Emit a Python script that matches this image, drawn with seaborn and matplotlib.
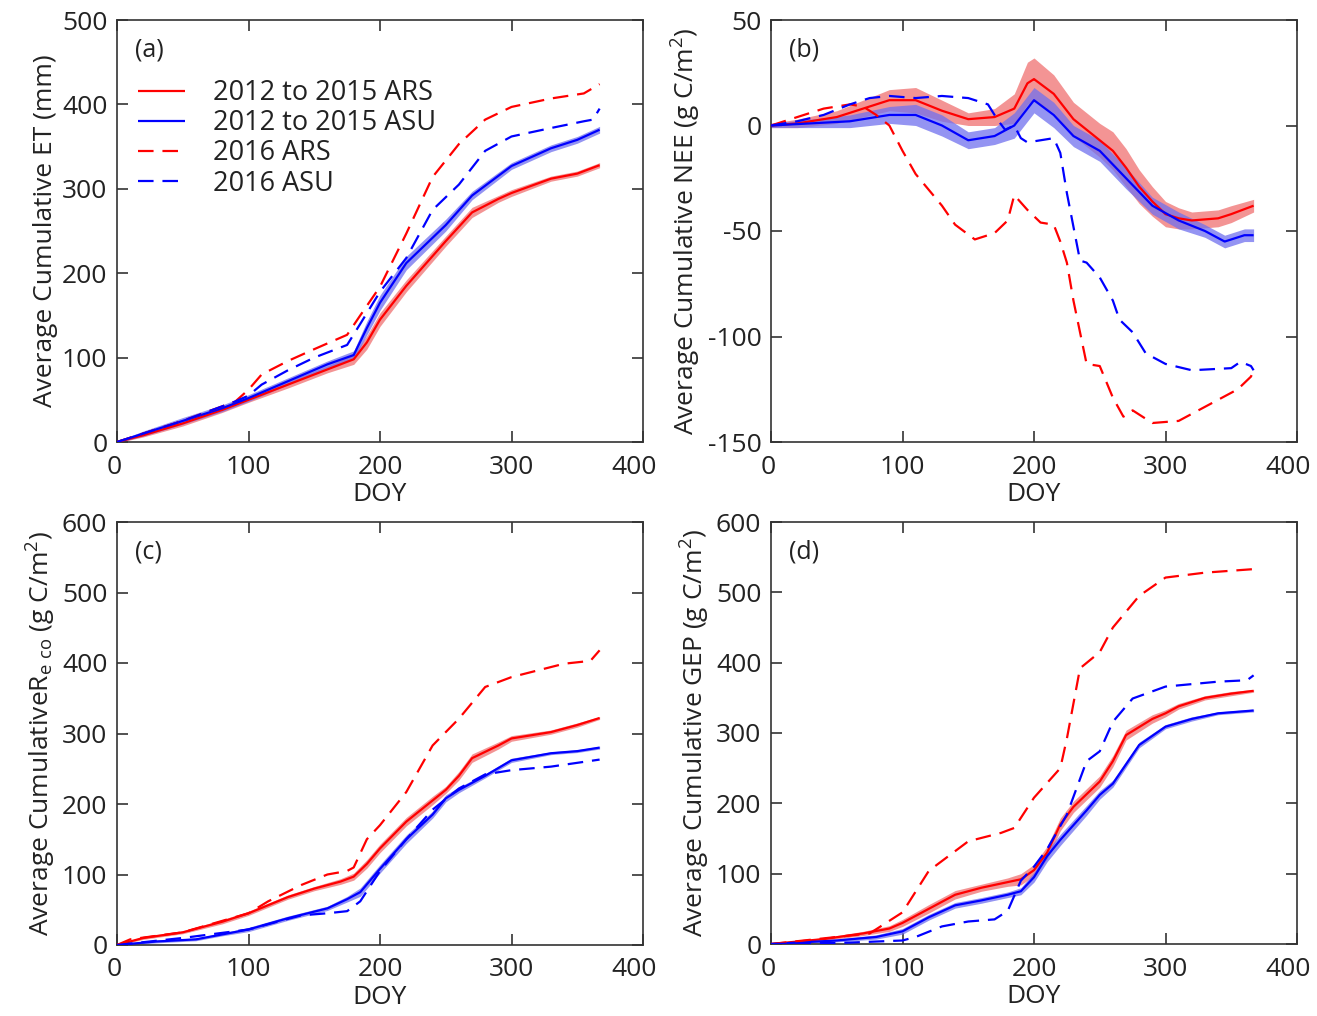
import numpy as np
import pandas as pd
import matplotlib
matplotlib.use("Agg")
import matplotlib.pyplot as plt
from matplotlib.transforms import ScaledTranslation
import seaborn as sns

# ---------------- data ----------------
# (a) cumulative ET
ET_ARS_x = [0, 20, 50, 80, 100, 130, 160, 180, 190, 200, 220, 250, 270, 290, 300, 330, 350, 367]
ET_ARS_y = [0, 8, 22, 38, 50, 68, 86, 98, 118, 145, 185, 238, 272, 288, 295, 312, 318, 328]
ET_ARS_e = [1, 2, 3, 3, 3, 4, 4, 6, 8, 8, 7, 6, 6, 4, 4, 3, 3, 3]
ET_ASU_x = [0, 20, 50, 80, 100, 130, 160, 180, 190, 200, 220, 250, 270, 300, 330, 350, 367]
ET_ASU_y = [0, 10, 25, 40, 52, 72, 92, 103, 135, 165, 212, 257, 292, 327, 348, 358, 370]
ET_ASU_e = [1, 3, 4, 4, 4, 4, 4, 5, 8, 9, 8, 7, 5, 4, 4, 4, 4]
ET16_ARS_x = [0, 50, 90, 100, 110, 130, 150, 175, 185, 200, 220, 240, 260, 280, 300, 330, 355, 367]
ET16_ARS_y = [0, 25, 48, 62, 80, 96, 110, 127, 150, 184, 247, 314, 353, 382, 397, 407, 413, 424]
ET16_ASU_x = [0, 50, 90, 100, 110, 130, 150, 175, 185, 200, 220, 240, 260, 280, 300, 330, 355, 362, 367]
ET16_ASU_y = [0, 25, 48, 55, 68, 85, 100, 115, 140, 178, 218, 275, 305, 345, 362, 372, 380, 382, 395]

# (b) cumulative NEE
NEE_ARS_x = [0, 20, 50, 70, 90, 110, 130, 150, 170, 185, 195, 200, 215, 230, 250, 260, 270, 280, 290, 300, 310, 320, 340, 350, 367]
NEE_ARS_y = [0, 1, 4, 8, 12, 12, 7, 3, 4, 8, 20, 22, 15, 3, -7, -12, -20, -29, -36, -42, -44, -45, -44, -42, -38]
NEE_ARS_e = [1, 2, 3, 4, 5, 6, 5, 3, 4, 7, 10, 10, 9, 8, 8, 9, 9, 8, 7, 6, 5, 4, 4, 4, 3]
NEE_ASU_x = [0, 30, 60, 90, 110, 130, 150, 170, 185, 200, 215, 230, 250, 270, 290, 310, 330, 345, 360, 367]
NEE_ASU_y = [0, 1, 2, 5, 5, 0, -7, -5, 0, 12, 5, -5, -12, -25, -38, -45, -50, -55, -52, -52]
NEE_ASU_e = [1, 2, 3, 4, 5, 5, 4, 4, 6, 6, 6, 5, 5, 5, 4, 4, 3, 3, 3, 3]
NEE16_ARS_x = [0, 20, 40, 60, 70, 80, 90, 100, 110, 130, 140, 155, 170, 180, 185, 195, 205, 215, 220, 225, 230, 240, 250, 260, 268, 275, 290, 310, 340, 355, 365, 367]
NEE16_ARS_y = [0, 4, 8, 10, 9, 5, 0, -12, -23, -38, -47, -54, -51, -45, -33, -40, -46, -47, -55, -65, -83, -113, -114, -129, -138, -135, -141, -140, -130, -125, -119, -116]
NEE16_ASU_x = [0, 20, 40, 60, 75, 90, 110, 130, 150, 165, 172, 178, 185, 190, 195, 215, 220, 225, 235, 240, 250, 260, 265, 275, 285, 300, 320, 350, 357, 365, 367]
NEE16_ASU_y = [0, 2, 5, 10, 13, 14, 13, 14, 13, 10, 3, -2, 0, -6, -8, -6, -13, -32, -64, -65, -72, -83, -92, -98, -108, -113, -116, -115, -112, -114, -116]

# (c) cumulative Reco
RECO_ARS_x = [0, 20, 50, 80, 100, 130, 150, 170, 180, 190, 200, 220, 240, 250, 260, 270, 290, 300, 330, 350, 367]
RECO_ARS_y = [0, 10, 18, 33, 45, 68, 80, 90, 97, 115, 137, 175, 205, 220, 240, 265, 283, 293, 302, 312, 322]
RECO_ARS_e = [1, 2, 2, 3, 3, 3, 3, 4, 5, 6, 6, 6, 6, 5, 6, 6, 5, 4, 3, 3, 2]
RECO_ASU_x = [0, 30, 60, 80, 100, 130, 160, 175, 185, 200, 220, 240, 250, 260, 280, 300, 330, 350, 367]
RECO_ASU_y = [0, 5, 8, 15, 22, 38, 52, 65, 75, 108, 150, 185, 208, 220, 240, 262, 272, 275, 280]
RECO_ASU_e = [1, 2, 2, 2, 3, 3, 3, 4, 6, 6, 6, 5, 5, 4, 3, 3, 2, 2, 2]
RECO16_ARS_x = [0, 10, 50, 100, 115, 140, 160, 175, 180, 190, 200, 220, 240, 260, 280, 300, 340, 360, 367]
RECO16_ARS_y = [0, 8, 18, 45, 62, 85, 100, 105, 110, 150, 170, 217, 283, 321, 366, 380, 399, 403, 418]
RECO16_ASU_x = [0, 50, 100, 140, 160, 175, 185, 200, 220, 240, 260, 280, 300, 330, 367]
RECO16_ASU_y = [0, 10, 22, 42, 45, 48, 62, 105, 150, 192, 222, 242, 248, 253, 263]

# (d) cumulative GEP
GEP_ARS_x = [0, 40, 70, 90, 100, 120, 140, 160, 180, 190, 200, 210, 220, 230, 250, 260, 270, 290, 300, 310, 330, 350, 367]
GEP_ARS_y = [0, 7, 15, 22, 30, 50, 70, 80, 88, 92, 105, 130, 170, 195, 231, 260, 297, 320, 328, 338, 350, 356, 360]
GEP_ARS_e = [1, 2, 3, 4, 5, 6, 6, 5, 6, 8, 8, 9, 9, 8, 8, 8, 7, 6, 5, 4, 3, 3, 2]
GEP_ASU_x = [0, 50, 80, 100, 120, 140, 160, 180, 190, 200, 210, 220, 240, 250, 260, 280, 300, 320, 340, 367]
GEP_ASU_y = [0, 5, 10, 18, 38, 55, 62, 70, 75, 95, 125, 148, 190, 212, 228, 283, 309, 320, 328, 332]
GEP_ASU_e = [1, 2, 3, 4, 4, 4, 4, 4, 5, 7, 8, 8, 7, 6, 5, 4, 3, 3, 2, 2]
GEP16_ARS_x = [0, 75, 100, 120, 150, 175, 185, 200, 220, 225, 235, 250, 260, 280, 300, 330, 367]
GEP16_ARS_y = [0, 15, 45, 104, 146, 158, 165, 208, 250, 292, 392, 415, 450, 495, 521, 528, 533]
GEP16_ASU_x = [0, 60, 100, 110, 130, 150, 170, 180, 190, 200, 210, 225, 240, 250, 260, 275, 300, 340, 362, 367]
GEP16_ASU_y = [0, 2, 5, 10, 25, 32, 35, 47, 90, 110, 135, 184, 260, 274, 316, 349, 366, 373, 375, 382]

LEGEND_LABELS = ["2012 to 2015 ARS", "2012 to 2015 ASU", "2016 ARS", "2016 ASU"]
PANEL_TAGS = ["(a)", "(b)", "(c)", "(d)"]
YLABELS = ["Average Cumulative ET (mm)",
           "Average Cumulative NEE (g C/m$^2$)",
           r"Average CumulativeR$_{\mathrm{e\ co}}$ (g C/m$^2$)",
           "Average Cumulative GEP (g C/m$^2$)"]
YLIMS = [(0, 500), (-150, 50), (0, 600), (0, 600)]
YSTEPS = [100, 50, 100, 100]

panels = [
    [(ET_ARS_x, ET_ARS_y, ET_ARS_e), (ET_ASU_x, ET_ASU_y, ET_ASU_e), (ET16_ARS_x, ET16_ARS_y), (ET16_ASU_x, ET16_ASU_y)],
    [(NEE_ARS_x, NEE_ARS_y, NEE_ARS_e), (NEE_ASU_x, NEE_ASU_y, NEE_ASU_e), (NEE16_ARS_x, NEE16_ARS_y), (NEE16_ASU_x, NEE16_ASU_y)],
    [(RECO_ARS_x, RECO_ARS_y, RECO_ARS_e), (RECO_ASU_x, RECO_ASU_y, RECO_ASU_e), (RECO16_ARS_x, RECO16_ARS_y), (RECO16_ASU_x, RECO16_ASU_y)],
    [(GEP_ARS_x, GEP_ARS_y, GEP_ARS_e), (GEP_ASU_x, GEP_ASU_y, GEP_ASU_e), (GEP16_ARS_x, GEP16_ARS_y), (GEP16_ASU_x, GEP16_ASU_y)],
]

# ---------------- style ----------------
sns.set_style("ticks")
FONT = ["Open Sans", "DejaVu Sans"]
plt.rcParams["font.family"] = FONT
plt.rcParams["mathtext.fontset"] = "custom"
plt.rcParams["mathtext.rm"] = "Open Sans"
plt.rcParams["mathtext.it"] = "Open Sans"
plt.rcParams["axes.unicode_minus"] = False
TXT = "#222222"
RED = "#ff0000"
BLUE = "#0000ff"
BAND_RED = "#f07070"
BAND_BLUE = "#7070ee"
FS = 19
DPI = 100

fig = plt.figure(figsize=(13.17, 10.16), dpi=DPI)
W, H = 1317, 1016
boxes = [(117, 20, 526, 422), (771, 20, 526, 422), (117, 522, 526, 423), (771, 522, 526, 422)]
XLABEL_SHIFT_PX = [-3, 0, 0, 0, -9]

for i, (bx, by, aw, ah) in enumerate(boxes):
    ax = fig.add_axes([bx / W, 1 - (by + ah) / H, aw / W, ah / H])
    sol_r, sol_b, dash_r, dash_b = panels[i]
    # shaded spread of the 2012-2015 means
    for (x, y, e), c in [(sol_r, BAND_RED), (sol_b, BAND_BLUE)]:
        y = np.asarray(y, float); e = np.asarray(e, float)
        ax.fill_between(x, y - e, y + e, color=c, alpha=0.75, lw=0, zorder=1)
    frames = []
    for (ser, lab) in zip([sol_r, sol_b, dash_r, dash_b], LEGEND_LABELS):
        frames.append(pd.DataFrame({"DOY": ser[0], "val": ser[1], "series": lab}))
    df = pd.concat(frames, ignore_index=True)
    sns.lineplot(data=df, x="DOY", y="val", hue="series", style="series",
                 hue_order=LEGEND_LABELS, style_order=LEGEND_LABELS,
                 palette=[RED, BLUE, RED, BLUE],
                 dashes=[(1, 0), (1, 0), (7, 4), (7, 4)],
                 linewidth=1.6, sort=False, estimator=None, ax=ax, legend=(i == 0), zorder=3)
    ax.set_xlim(0, 400)
    ax.set_ylim(*YLIMS[i])
    ax.set_xticks(np.arange(0, 401, 100))
    ax.set_yticks(np.arange(YLIMS[i][0], YLIMS[i][1] + 1, YSTEPS[i]))
    ax.tick_params(direction="in", length=8, width=1.1, top=True, right=True,
                   labelsize=FS, colors=TXT)
    ax.tick_params(axis="y", pad=7)
    ax.tick_params(axis="x", pad=9)
    for lab, dx in zip(ax.get_xticklabels(), XLABEL_SHIFT_PX):
        lab.set_transform(lab.get_transform() + ScaledTranslation(dx / DPI, 0, fig.dpi_scale_trans))
    for s in ax.spines.values():
        s.set_visible(True)
        s.set_color("#333333")
        s.set_linewidth(1.2)
    ax.set_xlabel("DOY", fontsize=FS, color=TXT, labelpad=2)
    ax.set_ylabel(YLABELS[i], fontsize=FS, color=TXT, labelpad=3)
    ax.text(0.035, 0.928, PANEL_TAGS[i], transform=ax.transAxes, fontsize=FS - 1,
            color=TXT, ha="left", va="center")
    if i == 0:
        h, l = ax.get_legend_handles_labels()
        ax.legend(h, l, loc="upper left", bbox_to_anchor=(0.04, 0.86), frameon=False,
                  fontsize=FS + 0.5, handlelength=1.75, handletextpad=1.0, labelspacing=0.08,
                  borderpad=0, borderaxespad=0, labelcolor=TXT)

fig.savefig("out.png", dpi=DPI)
